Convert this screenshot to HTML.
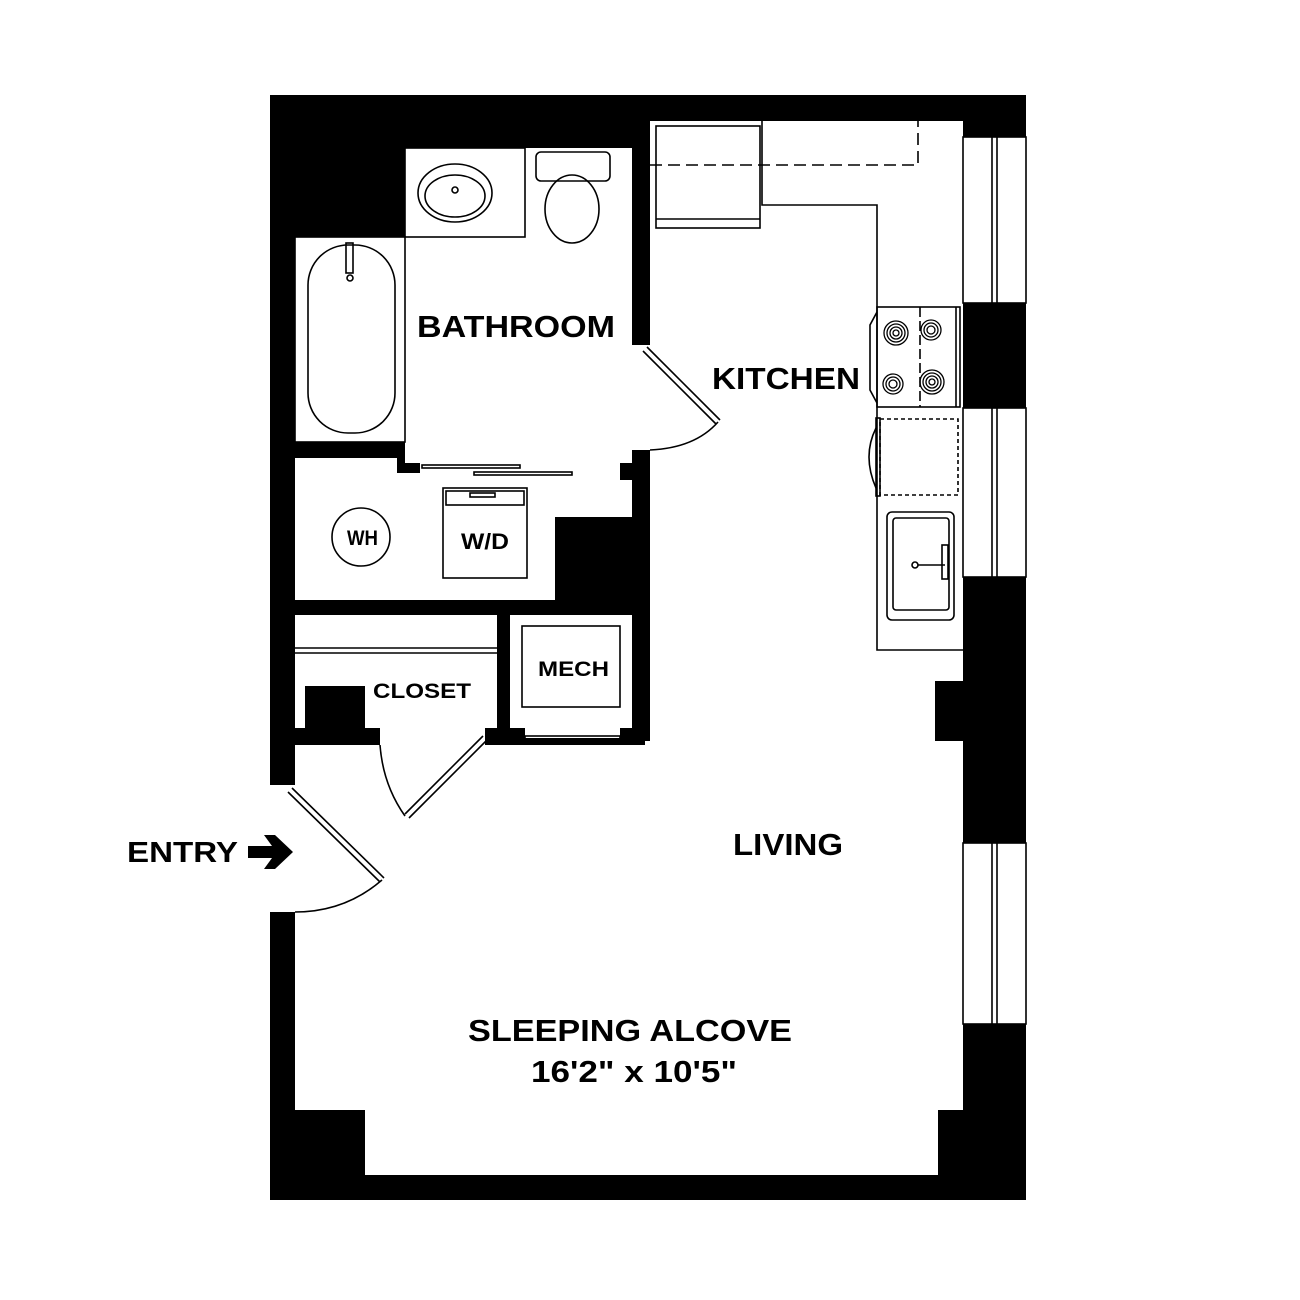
<!DOCTYPE html>
<html><head><style>
html,body{margin:0;padding:0;background:#fff;}
svg{display:block;}
text{font-family:"Liberation Sans",Arial,sans-serif;font-weight:bold;fill:#000;}
</style></head><body>
<svg width="1300" height="1300" viewBox="0 0 1300 1300" xmlns="http://www.w3.org/2000/svg">
<rect width="1300" height="1300" fill="#fff"/>
<rect x="270" y="95" width="756" height="1105" fill="#000"/>
<g fill="#fff">
  <rect x="650" y="121" width="313" height="560"/>
  <rect x="650" y="681" width="285" height="60"/>
  <rect x="645" y="741" width="318" height="369"/>
  <rect x="295" y="745" width="668" height="365"/>
  <rect x="365" y="1110" width="573" height="65"/>
  <rect x="630" y="345" width="25" height="105"/>
  <rect x="268" y="785" width="30" height="127"/>
  <rect x="405" y="148" width="227" height="315"/>
  <rect x="420" y="463" width="200" height="54"/>
  <rect x="295" y="237" width="110" height="205"/>
  <rect x="295" y="458" width="102" height="142"/>
  <rect x="295" y="473" width="260" height="127"/>
  <rect x="420" y="480" width="212" height="37"/>
  <rect x="295" y="615" width="202" height="113"/>
  <rect x="380" y="725" width="105" height="22"/>
  <rect x="510" y="615" width="122" height="113"/>
  <rect x="525" y="726" width="95" height="12"/>
  <rect x="963" y="137" width="63" height="166"/>
  <rect x="963" y="408" width="63" height="169"/>
  <rect x="963" y="843" width="63" height="181"/>
</g>
<rect x="305" y="686" width="60" height="45" fill="#000"/>
<g fill="none" stroke="#000" stroke-width="1.6">
  <rect x="963" y="137" width="63" height="166"/>
  <rect x="963" y="408" width="63" height="169"/>
  <rect x="963" y="843" width="63" height="181"/>
  <line x1="992" y1="137" x2="992" y2="303"/><line x1="997" y1="137" x2="997" y2="303"/>
  <line x1="992" y1="408" x2="992" y2="577"/><line x1="997" y1="408" x2="997" y2="577"/>
  <line x1="992" y1="843" x2="992" y2="1024"/><line x1="997" y1="843" x2="997" y2="1024"/>
  <rect x="405" y="148" width="120" height="89"/>
  <ellipse cx="455" cy="193" rx="37" ry="29"/>
  <ellipse cx="455" cy="196" rx="30" ry="21"/>
  <circle cx="455" cy="190" r="3"/>
  <rect x="536" y="152" width="74" height="29" rx="5"/>
  <ellipse cx="572" cy="209" rx="27" ry="34"/>
  <rect x="295" y="237" width="110" height="205"/>
  <rect x="308" y="245" width="87" height="188" rx="40"/>
  <rect x="346" y="243" width="7" height="30"/>
  <circle cx="350" cy="278" r="3"/>
  <rect x="422" y="465" width="98" height="3"/>
  <rect x="474" y="472" width="98" height="3"/>
  <rect x="443" y="488" width="84" height="90"/>
  <rect x="446" y="491" width="78" height="14"/>
  <rect x="470" y="493" width="25" height="4"/>
  <circle cx="361" cy="537" r="29"/>
  <line x1="295" y1="648" x2="497" y2="648"/>
  <line x1="295" y1="653" x2="497" y2="653"/>
  <rect x="522" y="626" width="98" height="81"/>
  <rect x="525" y="736" width="95" height="4"/>
  <rect x="656" y="126" width="104" height="102"/>
  <line x1="656" y1="219" x2="760" y2="219"/>
  <polyline points="762,121 762,205 877,205 877,650 963,650"/>
  <polyline points="650,165 918,165 918,121" stroke-dasharray="12,6"/>
  <rect x="877" y="307" width="83" height="100"/>
  <line x1="956" y1="307" x2="956" y2="407"/>
  <line x1="920" y1="307" x2="920" y2="407" stroke-dasharray="10,4"/>
  <polyline points="877,312 870,325 870,390 877,403"/>
</g>
<g fill="none" stroke="#000" stroke-width="1.3">
  <circle cx="896" cy="333" r="12"/><circle cx="896" cy="333" r="9"/><circle cx="896" cy="333" r="6"/><circle cx="896" cy="333" r="3"/>
  <circle cx="931" cy="330" r="10"/><circle cx="931" cy="330" r="7"/><circle cx="931" cy="330" r="4"/>
  <circle cx="893" cy="384" r="10"/><circle cx="893" cy="384" r="7"/><circle cx="893" cy="384" r="4"/>
  <circle cx="932" cy="382" r="12"/><circle cx="932" cy="382" r="9"/><circle cx="932" cy="382" r="6"/><circle cx="932" cy="382" r="3"/>
</g>
<g fill="none" stroke="#000" stroke-width="1.6">
  <rect x="880" y="419" width="78" height="76" stroke-dasharray="4,3"/>
  <rect x="876" y="418" width="4" height="78"/>
  <path d="M876,428 Q862,456 876,488"/>
  <rect x="887" y="512" width="67" height="108" rx="5"/>
  <rect x="893" y="518" width="56" height="92" rx="3"/>
  <circle cx="915" cy="565" r="3"/>
  <line x1="918" y1="565" x2="945" y2="565"/>
  <rect x="942" y="545" width="6" height="34"/>
</g>
<g fill="none" stroke="#000" stroke-width="1.6">
  <line x1="647" y1="347" x2="720" y2="420"/>
  <line x1="643" y1="351" x2="716" y2="424"/>
  <path d="M718,422 Q695,448 650,450"/>
  <line x1="292" y1="788" x2="384" y2="878"/>
  <line x1="288" y1="792" x2="380" y2="882"/>
  <path d="M382,880 Q345,912 295,912"/>
  <line x1="483" y1="736" x2="405" y2="814"/>
  <line x1="487" y1="740" x2="409" y2="818"/>
  <path d="M405,816 Q383,785 380,745"/>
</g>
<text x="417" y="337" font-size="31" textLength="198" lengthAdjust="spacingAndGlyphs">BATHROOM</text>
<text x="712" y="389" font-size="31" textLength="148" lengthAdjust="spacingAndGlyphs">KITCHEN</text>
<text x="347" y="545" font-size="21" textLength="31" lengthAdjust="spacingAndGlyphs">WH</text>
<text x="461" y="549" font-size="22" textLength="48" lengthAdjust="spacingAndGlyphs">W/D</text>
<text x="538" y="676" font-size="21" textLength="71" lengthAdjust="spacingAndGlyphs">MECH</text>
<text x="373" y="698" font-size="21" textLength="98" lengthAdjust="spacingAndGlyphs">CLOSET</text>
<text x="127" y="862" font-size="29" textLength="111" lengthAdjust="spacingAndGlyphs">ENTRY</text>
<path d="M248,846 L272,846 L264,835 L275,835 L293,852 L275,869 L264,869 L272,858 L248,858 Z" fill="#000"/>
<text x="733" y="855" font-size="31" textLength="110" lengthAdjust="spacingAndGlyphs">LIVING</text>
<text x="468" y="1041" font-size="31" textLength="324" lengthAdjust="spacingAndGlyphs">SLEEPING ALCOVE</text>
<text x="531" y="1082" font-size="31" textLength="206" lengthAdjust="spacingAndGlyphs">16'2" x 10'5"</text>
</svg>
</body></html>
